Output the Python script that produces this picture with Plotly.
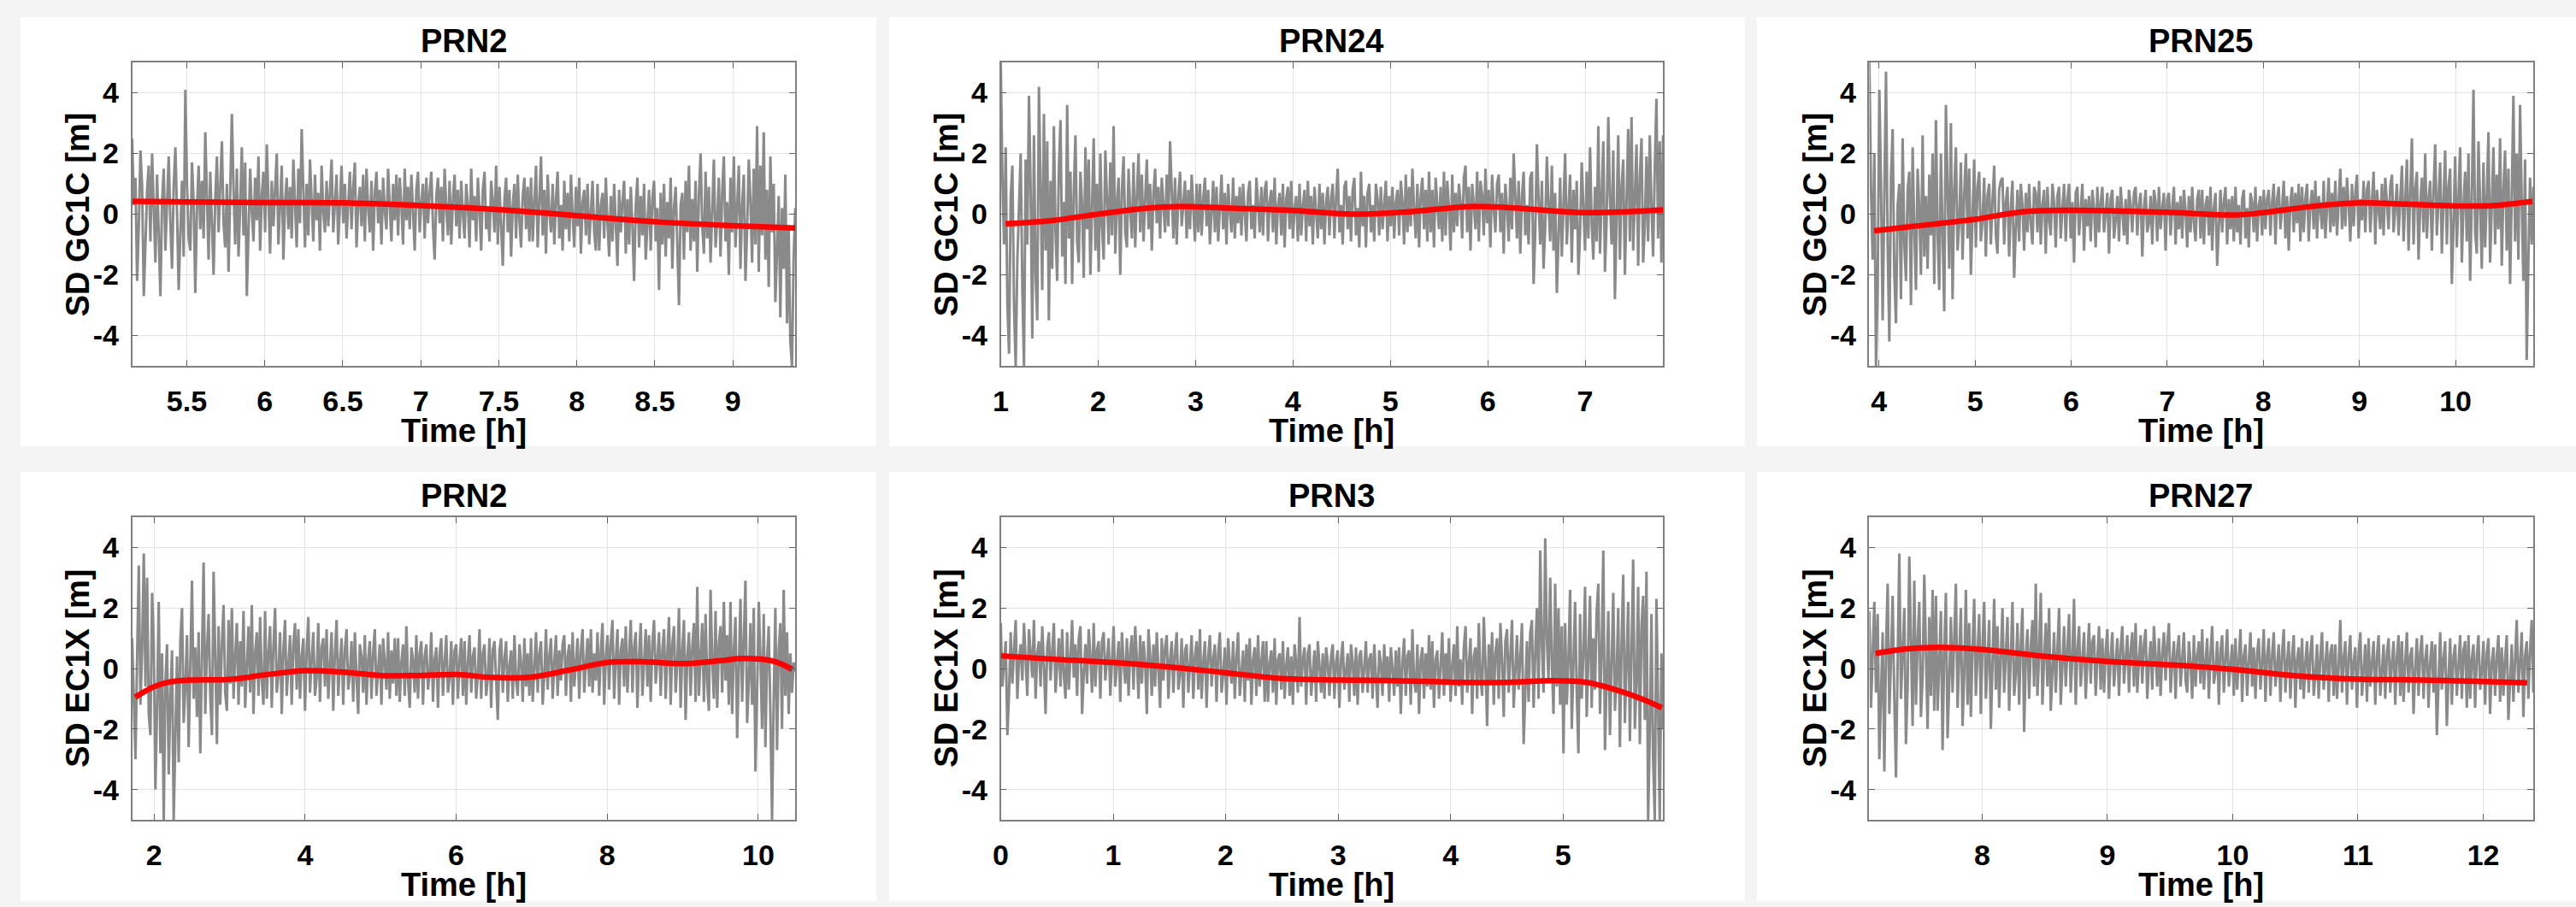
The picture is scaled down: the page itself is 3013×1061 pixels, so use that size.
import numpy as np
import plotly.graph_objects as go

W, H = 3013, 1061
FONT = "Liberation Sans, Arial, Helvetica, sans-serif"

TITLES = ["PRN2", "PRN24", "PRN25", "PRN2", "PRN3", "PRN27"]
YLABELS = ["SD GC1C [m]"] * 3 + ["SD EC1X [m]"] * 3
XLABEL = "Time [h]"

T_START = [5.15, 1.0, 3.9, 1.71, 0.0, 7.1]
T_END = [9.40, 7.8, 10.81, 10.49, 5.89, 12.4]

XTICKS = [
    [5.5, 6, 6.5, 7, 7.5, 8, 8.5, 9],
    [1, 2, 3, 4, 5, 6, 7],
    [4, 5, 6, 7, 8, 9, 10],
    [2, 4, 6, 8, 10],
    [0, 1, 2, 3, 4, 5],
    [8, 9, 10, 11, 12],
]
XTICKTEXT = [
    ["5.5", "6", "6.5", "7", "7.5", "8", "8.5", "9"],
    ["1", "2", "3", "4", "5", "6", "7"],
    ["4", "5", "6", "7", "8", "9", "10"],
    ["2", "4", "6", "8", "10"],
    ["0", "1", "2", "3", "4", "5"],
    ["8", "9", "10", "11", "12"],
]
YTICKS = [-4, -2, 0, 2, 4]
YTICKTEXT = ["-4", "-2", "0", "2", "4"]

SD_PRN2_G = [
    2.5, 0.3, 1.2, -2.2, -0.4, 2.1, 0.9, -2.7, -1.0, 0.8, 1.6, -0.9, 2.0, 0.2, -1.6, 1.3, -0.5, -2.7, 0.4, 1.5,
    -1.2, 0.6, 1.9, -0.3, -1.8, 0.9, 2.2, 0.1, -2.5, -0.6, 1.1, -1.4, 4.1, 1.0, -0.8, -1.2, 1.7, 0.4, -2.6, 0.2,
    1.6, -0.5, 1.1, -0.8, 2.7, 0.6, -1.5, 1.4, -0.2, -2.0, 0.5, 1.9, -0.6, 0.9, 2.4, -0.3, -1.1, 1.0, -1.9, 0.7,
    3.3, 0.8, -1.0, 1.5, -1.4, 0.3, 2.2, -0.7, 1.7, -2.7, -0.4, 1.5, 0.1, -0.9, 1.2, -0.2, 1.9, -1.2, 0.6, 1.4,
    -0.6, 2.3, 0.5, -1.3, 1.1, -0.4, 0.8, 2.0, -1.0, 0.2, 1.6, -1.5, 0.4, 1.2, -0.5, 0.9, -0.8, 1.8, 0.0, -1.1,
    1.5, -0.3, 2.8, 0.6, -1.1, 1.0, -0.7, 1.8, 0.3, -0.9, 1.3, -0.2, 0.7, -1.2, 1.6, 0.1, -0.6, 1.1, -0.4, 0.9,
    1.8, -0.6, 0.5, 1.3, -1.0, 0.2, 1.6, -0.3, 1.0, -0.8, 0.4, 1.4, -0.5, 0.9, 1.7, -1.1, 0.3, 0.9, -0.4, 1.3,
    -0.9, 1.5, 0.2, -0.6, 1.1, -1.2, 0.7, 1.4, -0.3, 0.8, -1.0, 1.2, 0.1, -0.5, 1.5, 0.4, -0.9, 1.0, -0.2, 1.3,
    -0.7, 1.2, 0.3, -1.0, 1.5, -0.2, 0.9, -0.5, 1.3, 0.1, -1.2, 0.8, 1.4, -0.6, 0.4, 1.0, -0.8, 1.2, -0.3, 0.7,
    1.4, -0.4, -1.5, 0.6, 1.2, -0.3, 0.9, -0.9, 1.5, 0.2, -0.7, 1.1, -1.0, 0.5, 1.3, -0.4, 0.8, -0.8, 1.1, 0.0,
    -0.8, 1.0, 0.3, -1.1, 1.5, -0.2, 0.6, -0.9, 1.2, 0.1, -1.2, 0.8, 1.4, -0.5, 0.2, -0.9, 1.1, 0.4, -0.6, 1.6,
    -1.0, 0.9, -0.3, -1.7, 0.5, 1.2, -0.6, 0.8, -1.4, 0.3, 1.0, -0.8, 1.3, -0.2, -1.1, 0.6, 1.2, -0.5, 0.9, -0.9,
    1.2, -0.9, 0.4, 1.6, -1.1, 0.2, 1.9, -0.7, 0.8, -1.3, 1.3, 0.1, -0.6, 1.0, -1.0, 0.5, 1.4, -0.8, 0.3, -1.2,
    1.1, -0.5, 0.7, -0.9, 1.3, 0.0, -1.1, 0.9, -0.4, 1.2, -1.3, 0.4, 0.8, -0.7, 1.0, -1.0, 0.2, 1.1, -0.6, -1.2,
    1.0, -1.2, 0.3, 0.7, -0.8, 1.2, -0.3, -1.4, 0.6, -0.9, 1.0, -0.2, -1.7, 0.8, -0.6, 0.4, 1.1, -1.3, 0.5, -1.0,
    0.9, -0.4, -2.2, 0.3, 1.2, -1.1, 0.6, -0.7, 1.0, -1.5, -0.3, 0.8, -1.2, 0.5, 1.1, -0.9, 0.2, -2.5, 0.7, -1.0,
    1.0, -1.4, 0.4, -0.8, 1.2, -1.8, 0.2, 0.9, -1.0, -3.0, 0.3, 0.7, -1.5, 1.1, -0.6, 1.6, -1.2, 0.5, -0.9, 1.1,
    -1.9, 0.6, 2.0, -0.4, -1.3, 1.4, -0.8, 0.9, -1.6, 0.3, 1.8, -1.1, -0.2, 1.2, -1.4, 0.7, 1.9, -0.9, 0.4, -2.0,
    1.2, -0.6, 1.9, -1.1, 0.5, 1.6, -1.8, 0.3, 1.3, -2.2, -0.5, 1.8, 0.4, -1.6, 1.5, -1.0, 2.9, -1.9, 1.6, -0.7,
    2.7, -1.5, 0.8, -2.4, 1.9, -0.6, 1.0, -2.9, -1.2, 0.6, -3.4, 0.2, -1.8, 1.3, -3.6, -0.5, -4.2, -5.0, -1.4, 0.2,
]
SD_PRN24_G = [
    5.0, 1.2, -1.0, 2.2, -3.0, -4.6, 0.6, 1.6, -3.0, -5.0, -1.5, 0.5, 2.0, -2.4, -5.0, 1.8, -1.0, 3.9, 0.8, -4.1,
    2.6, -2.0, -3.5, 4.2, 0.9, -2.5, 3.3, -1.2, 2.4, -3.5, 1.1, -1.8, 2.9, -0.6, -2.2, 1.5, 3.1, -1.4, 0.4, -2.3,
    3.6, -0.8, 1.4, -2.3, 0.7, 2.6, -0.9, -1.6, 1.4, 0.3, -2.1, 2.2, -0.5, 1.8, -2.0, 0.6, 2.5, -1.2, 1.0, -1.9,
    2.0, -0.4, -1.5, 2.1, 0.5, -1.0, 1.7, -0.7, 2.9, -1.3, 0.4, 1.2, -2.0, 0.8, 1.9, -0.6, -1.1, 1.5, 0.1, -0.8,
    1.7, -1.1, 0.6, 2.0, -0.6, 1.3, -0.9, 0.4, 1.8, -0.5, 1.0, -1.2, 0.7, 1.5, -0.3, 0.9, -0.8, 1.2, 0.2, -0.6,
    1.3, -0.4, 2.4, 0.5, -0.8, 1.2, -1.0, 0.6, 1.4, -0.4, 0.3, 1.1, -0.8, 0.8, -0.5, 1.3, 0.2, -0.9, 1.0, -0.6,
    1.0, -0.7, 0.5, 1.2, -0.4, 0.8, -1.0, 0.3, 1.1, -0.6, 0.9, -0.9, 0.4, 1.3, -0.5, 0.7, -1.0, 1.0, 0.1, -0.6,
    1.2, -0.8, 0.6, -0.3, 0.9, -0.7, 1.0, 0.2, -0.9, 0.7, 1.1, -0.5, 0.3, -0.8, 1.2, 0.4, -0.6, 0.9, -0.7, 0.8,
    1.1, -0.9, 0.4, 0.8, -0.6, 1.2, -1.0, 0.3, 0.7, -0.7, 1.0, -1.1, 0.5, 0.9, -0.5, 1.1, -0.8, 0.2, 0.6, -0.9,
    1.0, -0.7, 0.3, 0.8, -0.9, 1.1, -0.4, 0.6, -1.0, 0.9, 0.1, -0.8, 1.0, -0.5, 0.7, -1.0, 0.4, 0.9, -0.7, 0.5,
    1.0, -0.8, 0.5, 1.5, -0.6, 0.3, -1.0, 0.9, 1.1, -0.5, 0.6, -0.9, 0.8, 1.2, -0.7, 0.2, -1.1, 1.4, -0.4, 0.6,
    -1.1, 0.7, 1.0, -0.6, 0.3, -0.9, 1.0, 0.5, -0.7, 0.9, -0.5, 0.2, 1.1, -0.9, 0.6, -0.4, 0.9, -0.8, 0.4, 0.8,
    -0.7, 1.1, 0.4, -1.0, 1.3, -0.6, 0.9, -0.4, 1.5, 0.2, -0.8, 1.0, -1.1, 0.6, 1.2, -0.5, 0.8, -0.9, 1.4, -0.6,
    0.8, -1.1, 1.2, 0.3, -0.5, 0.9, -0.9, 1.4, -0.7, 1.1, 0.2, -1.2, 1.3, -0.6, 0.7, -0.4, 1.0, 0.4, -0.8, 1.2,
    1.6, -0.6, 0.9, -1.2, 1.0, 0.3, -0.5, 1.4, -0.9, 1.1, 0.6, -0.7, 1.5, -0.3, 0.8, -1.1, 1.3, 0.2, -0.6, 1.0,
    1.3, -0.6, 0.7, -1.3, 1.0, 0.2, -0.9, 1.2, -0.5, 2.0, 0.4, -0.8, 1.1, -1.3, 0.6, 1.4, -0.7, 0.3, -1.0, 1.2,
    1.4, -2.3, -0.6, 2.3, 0.5, -1.0, 1.1, -1.8, -0.4, 1.9, 0.3, -0.9, 1.6, -1.2, 0.7, -2.6, -0.8, 1.2, -1.4, 0.6,
    2.0, -1.0, 0.4, 1.3, -1.6, 0.8, -0.5, 1.1, -2.0, -0.6, 1.7, 0.2, -1.2, 1.4, -0.8, 2.2, -0.3, -1.5, 0.9, -0.9,
    2.9, -1.3, 0.6, 2.4, -1.9, -0.2, 3.2, 0.5, -1.0, 2.1, -2.8, 0.3, 2.6, -1.5, 0.9, 1.8, -2.0, 0.4, 2.8, -0.9,
    3.2, -1.2, 0.7, 2.3, -1.7, 1.2, 2.5, -1.6, -0.4, 1.9, -0.9, 2.6, 0.3, -1.4, 1.5, 3.8, -0.8, 2.4, -1.6, 2.6,
]
SD_PRN25_G = [
    5.0, 0.8, -1.5, 2.0, -5.0, -2.4, 4.1, 1.0, -3.5, 0.5, 4.7, -1.0, -4.2, 1.2, 2.8, -2.0, -3.6, 0.3, 1.0, -2.8,
    2.5, -1.0, -2.2, 0.8, 1.4, -3.0, 2.2, -0.5, -2.5, 1.5, 0.2, -2.0, 2.6, -1.4, 0.6, -1.8, 1.3, -0.7, 2.0, -2.3,
    3.1, -0.6, -2.5, 2.0, -0.9, -3.2, 3.6, 0.4, -1.8, 3.0, -2.8, 0.8, 2.2, -1.2, -0.3, 1.7, -1.5, 0.6, 2.0, -0.8,
    1.5, -2.0, 0.3, 1.8, -1.1, 0.9, 1.4, -0.9, -0.2, 1.2, -1.4, 0.6, 1.0, -1.0, 0.4, 1.6, -0.7, -1.3, 0.8, 1.1,
    1.2, -1.0, 0.4, 0.9, -1.4, 0.2, 1.1, -2.1, -0.5, 0.8, -0.9, 1.0, 0.3, -1.2, 0.7, -0.6, 1.0, -0.3, -1.0, 0.9,
    0.7, -0.6, 1.1, -1.0, 0.3, 0.8, -1.3, 0.9, -0.2, -0.7, 1.0, 0.4, -1.1, 0.6, 0.9, -0.8, 0.2, 1.0, -0.9, 0.5,
    1.0, -0.8, 0.4, -1.6, 0.7, 0.9, -0.7, 0.3, 1.0, -1.2, 0.5, -0.4, 0.6, -0.9, 0.8, 0.2, -1.1, 0.9, -0.6, 0.4,
    0.9, -0.6, 0.2, 0.7, -1.3, 0.5, 0.8, -0.8, -0.2, 0.6, -0.9, 0.9, 0.1, -0.7, 0.5, -1.0, 0.8, 0.3, -0.6, 0.7,
    0.9, -0.7, 0.3, 0.7, -1.4, 0.2, 0.8, -0.6, -0.3, 0.6, -1.0, 0.8, 0.4, -0.9, 0.9, -0.5, 0.2, 0.7, -1.2, 0.5,
    0.7, -0.7, 0.2, 0.9, -1.0, 0.4, -0.5, 0.6, -0.8, 0.8, 0.1, -1.1, 0.6, -0.6, 0.9, -0.3, -0.9, 0.5, 0.8, -0.8,
    0.8, -1.0, 0.3, 0.6, -0.7, 0.9, -1.2, 0.2, 0.7, -1.7, -0.4, 0.8, -0.6, 0.4, 0.9, -1.0, 0.5, -0.5, 0.6, -0.9,
    0.9, -0.6, 0.3, -1.0, 0.5, 0.8, -0.8, 0.2, -1.1, 0.7, 0.4, -0.6, 0.9, -0.9, 0.3, 0.6, -0.7, 0.8, -0.5, 0.5,
    0.8, -0.7, 0.4, 1.0, -1.0, 0.5, 0.9, -0.5, 0.2, 1.1, -0.8, 0.6, -1.2, 0.4, 0.9, -0.6, 0.7, -0.3, 1.0, -0.9,
    0.9, -0.6, 0.5, 1.0, -0.9, 0.3, 0.8, -0.5, 1.1, -0.8, 0.6, 0.2, -0.5, 1.1, -0.8, 0.4, 1.2, -0.6, 0.7, -0.4,
    1.1, -0.7, 0.6, 1.5, -0.5, 0.9, -0.4, 1.2, 0.3, -0.9, 1.0, -0.4, 0.7, 1.3, -0.8, 0.5, -0.2, 1.1, -0.6, 0.8,
    1.1, -0.6, 0.4, 1.4, -1.0, 0.8, 0.2, -0.5, 1.0, -0.7, 1.2, 0.4, -0.5, 0.9, 1.3, -0.6, 0.3, 1.0, -0.7, 0.6,
    1.6, -0.9, 0.5, 1.8, -1.2, 0.4, 2.5, -1.0, 0.8, 1.4, -1.5, 0.3, 1.2, -0.6, 2.0, -0.8, 0.5, 1.1, -1.2, 0.7,
    2.3, -0.7, 0.6, 1.7, -1.3, 0.2, 2.1, -1.0, 0.9, 1.5, -2.3, -0.4, 1.9, -1.1, 0.8, 2.2, -1.6, 0.3, 1.4, -0.9,
    2.0, -2.2, 0.5, 4.1, -0.6, -1.3, 2.4, 0.3, -1.8, 1.7, -1.1, 0.6, 2.7, -1.6, 0.2, 2.2, -1.0, 1.3, -0.5, 2.5,
    -1.7, 0.8, 2.1, -1.2, 1.5, -2.3, 0.6, 3.9, -0.9, 2.0, -1.5, 3.6, 0.4, -2.2, 1.8, -4.8, -1.5, 1.2, -1.0, 0.9,
]
SD_PRN2_E = [
    1.0, -1.3, -3.0, 0.4, 3.4, -1.2, 0.6, 3.8, -0.6, 3.0, -1.5, -2.2, 2.5, 0.8, -4.0, -1.2, 2.2, -2.8, 0.5, -5.0,
    -0.5, 0.8, -3.5, -1.0, 0.6, -5.0, -2.0, 0.4, -3.1, 0.9, 2.0, -1.8, -0.6, 1.1, -2.6, 0.5, 2.9, -1.0, 0.7, -1.6,
    1.2, -2.8, 0.3, 3.5, -1.5, 0.6, 1.8, -0.9, -2.2, 3.2, 0.5, -2.5, 1.4, -1.2, 0.8, 2.1, -0.8, -1.4, 1.6, -0.5,
    2.0, -1.0, 0.4, 1.5, -1.2, 0.9, -0.6, 1.9, -1.3, 0.3, 1.4, -0.8, 2.1, -1.5, 0.5, 1.2, -0.9, 1.7, -0.4, -1.2,
    1.9, -1.0, 0.5, 1.4, -1.3, 0.7, 2.0, -0.8, -0.2, 1.2, -1.5, 0.6, 1.6, -0.9, 0.2, 1.1, -1.2, 0.8, 1.5, -0.7,
    1.3, -1.0, 0.4, 1.0, -1.4, 0.6, 1.7, -0.8, 0.3, 1.2, -0.9, -0.3, 1.5, -1.1, 0.7, 1.0, -0.6, 1.3, -1.0, 0.2,
    1.2, -1.4, 0.5, 1.6, -0.9, 0.2, 1.0, -1.2, 0.6, 1.3, -0.7, -0.2, 0.9, -1.1, 1.2, -0.3, -1.5, 0.8, 0.4, -0.8,
    1.1, -1.2, 0.3, 0.9, -1.0, 0.5, 1.3, -0.9, -0.1, 0.8, -1.2, 1.0, 0.2, -0.7, 1.2, -1.0, 0.6, -0.5, 1.0, -0.9,
    1.0, -1.1, 0.2, 0.8, -0.9, 1.4, -0.4, -1.3, 0.7, 0.3, -0.8, 1.1, -1.0, 0.5, 0.9, -1.2, 0.4, 0.8, -0.7, -0.1,
    1.2, -1.1, 0.3, 0.7, -1.3, 0.5, 1.0, -0.9, 0.2, 1.1, -0.8, -0.3, 0.9, -1.2, 0.6, 0.8, -1.0, 0.3, 1.0, -0.9,
    0.9, -1.2, 0.2, 1.1, -0.8, 0.4, 0.7, -1.0, -0.2, 1.3, -1.0, 0.5, 0.8, -0.9, -0.3, 1.0, -1.3, 0.6, 0.9, -0.7,
    -1.7, 0.6, 1.0, -0.8, 0.3, 0.9, -1.1, 0.1, 0.6, -1.0, 1.1, -0.4, -0.9, 0.8, 0.2, -1.1, 1.0, -0.6, 0.5, -0.9,
    1.0, -1.1, 0.3, 1.2, -0.8, 0.5, 0.9, -1.2, -0.2, 1.3, -0.7, 0.4, 1.0, -1.0, 0.2, 1.1, -0.9, 0.6, -0.4, 0.8,
    1.1, -0.9, 0.4, 0.8, -1.1, 1.2, -0.6, 0.3, 1.0, -1.0, 0.6, 1.3, -0.8, 0.2, 1.0, -0.6, 1.3, -0.8, 0.5, -0.4,
    1.2, -0.9, 0.6, 1.5, -1.2, 0.4, 1.1, -0.7, 0.9, 1.6, -1.0, 0.3, 1.3, -1.2, 0.6, 1.0, -0.6, 1.4, -0.8, 0.5,
    1.6, -0.8, 0.7, 1.2, -1.3, 0.4, 1.5, -0.9, 0.2, 1.3, -0.6, 1.1, -1.1, 0.8, 1.6, -0.5, 0.3, 1.2, -0.9, 0.6,
    1.3, -1.0, 0.5, 1.7, -1.2, 0.8, 1.4, -0.8, 0.2, 2.0, -1.3, 0.6, 1.6, -1.7, 0.4, 1.2, -0.9, 0.7, 1.5, -1.1,
    2.7, -0.9, 0.4, 1.5, -1.1, 1.8, -0.5, -1.4, 2.6, 0.3, -1.0, 1.9, -1.3, 0.8, 1.4, -0.8, 2.2, -0.4, 1.1, -1.2,
    2.2, -1.5, 0.6, 1.7, -2.3, 0.2, 2.3, -1.1, 0.9, 2.9, -1.8, -0.5, 1.5, -1.2, 2.0, -3.4, -0.8, 2.2, 0.4, -2.0,
    1.8, -2.6, 0.3, 1.4, -1.5, -5.0, -1.0, 2.0, -2.7, 0.6, 1.5, -2.0, 2.6, -0.9, 1.2, -1.5, 0.5, -0.8, 0.2, -0.1,
]
SD_PRN3_E = [
    1.5, -0.6, 0.2, 0.9, -2.2, -0.8, 1.2, -0.5, 0.6, 1.6, -1.0, 0.3, 0.8, -0.4, 1.5, 0.2, -0.9, 1.3, 0.4, -0.3,
    1.6, -1.0, 0.5, 0.9, -0.6, 1.4, 0.1, -1.5, 0.7, 1.2, -0.4, 0.5, 1.5, -0.8, 0.3, 1.0, -0.6, 1.3, -0.2, -1.0,
    1.2, -0.7, 0.4, 1.6, -0.3, 0.8, -0.9, 1.0, 1.4, -1.5, -0.2, 0.8, -0.5, 1.3, 0.4, -0.8, 1.5, -0.6, 0.6, 0.9,
    -1.0, 0.9, 1.2, -0.4, 0.3, 1.0, -0.9, 0.5, 1.4, -0.6, 0.1, 0.9, -1.1, 1.2, 0.2, -0.5, 1.0, -0.9, 0.6, 1.1,
    -0.7, 1.4, 0.3, -1.0, 1.1, -0.5, 0.9, 0.2, -1.5, 1.3, 0.4, -0.9, 0.8, -0.6, 1.2, 0.1, -1.3, 1.0, -0.4, 0.7,
    1.1, -1.0, 0.3, 0.9, -0.8, 0.5, 1.2, -0.7, -0.2, 1.0, -1.3, 0.6, 0.8, -0.8, 0.2, 1.1, -1.0, 0.4, 0.9, -0.7,
    1.3, -1.0, 0.2, 0.9, -1.3, 0.4, 1.1, -0.6, 0.3, 0.8, -1.1, 0.5, 1.2, -0.8, -0.2, 0.7, -1.2, 1.0, 0.1, -0.5,
    0.9, -1.0, 0.4, 1.2, -0.9, 0.0, 0.6, -1.1, 0.8, -0.4, 1.0, -1.2, 0.3, 0.7, -0.9, 1.1, -0.6, 0.2, 0.9, -1.1,
    0.9, -1.1, 0.2, 0.6, -0.8, 1.0, -1.2, 0.3, 0.5, -0.7, 0.9, -1.0, 0.1, 0.7, -0.9, 0.4, -1.2, 0.8, 0.2, -0.8,
    1.7, -0.6, 0.3, 0.7, -1.2, 0.5, 0.8, -0.9, -0.2, 0.6, -1.1, 0.9, 0.1, -0.8, 0.5, -1.0, 0.7, 0.2, -0.9, 0.4,
    0.8, -1.0, 0.2, 0.6, -1.3, 0.3, 0.9, -0.7, -0.1, 0.5, -1.1, 0.8, 0.2, -0.9, 0.7, -1.2, 0.4, 0.6, -0.8, 0.1,
    0.9, -0.8, 0.3, 0.5, -1.0, 0.8, -0.5, -1.3, 0.6, 0.2, -0.9, 0.8, -0.4, 0.4, -1.1, 0.7, 0.0, -0.9, 0.6, -0.6,
    0.7, -1.5, 0.2, 1.0, -0.9, 0.4, 0.6, -1.2, 1.3, -0.4, -0.8, 0.8, -1.5, 0.3, 0.7, -1.0, 0.5, -0.6, 1.1, -0.7,
    0.9, -1.3, 0.3, 0.6, -1.0, 0.2, 1.2, -0.9, 0.5, -0.4, 1.0, -1.1, 0.1, 0.8, -0.9, 1.4, -0.6, 0.3, -1.2, 0.7,
    1.4, -0.8, 0.2, 1.0, -1.5, 0.4, 0.7, -1.0, 1.5, -0.3, -0.9, 1.7, 0.2, -1.9, 0.8, -0.5, 1.2, -1.2, 0.5, 1.0,
    -1.0, 1.5, 0.3, -1.6, 0.9, 1.3, -0.8, 0.4, 1.6, -1.3, -0.2, 1.1, -0.7, 0.6, 1.5, -2.5, -0.6, 0.9, -1.1, 1.2,
    1.6, -1.3, 0.5, 2.0, -1.0, 3.9, 0.8, -0.8, 4.3, 1.0, -0.4, 3.0, 0.2, -1.5, 2.8, -0.6, 2.0, -1.2, 1.4, -2.8,
    1.5, -1.2, 0.3, 2.6, -2.0, 0.4, 2.2, -0.8, -2.8, 1.8, -1.0, 0.5, 2.7, -1.6, 0.2, 2.4, -1.3, 1.0, -0.7, 1.9,
    2.8, -1.5, 0.5, 3.9, -2.7, -0.6, 1.9, -2.2, 0.7, 2.5, -1.4, -0.3, 2.0, -2.6, 0.8, 3.1, -1.8, 0.4, 2.2, -2.4,
    1.0, 3.6, -2.0, -0.5, 2.7, -2.5, 1.4, 2.4, -1.7, 3.2, -5.0, -2.2, 1.8, -3.0, -5.0, 2.3, -1.2, -5.0, 0.5, -2.0,
]
SD_PRN27_E = [
    1.9, -1.3, 0.5, 2.2, -0.8, 1.8, -3.0, -0.4, 1.2, -3.4, 0.6, 2.8, -1.5, 0.3, 2.4, -1.0, -3.6, 0.2, 3.8, -1.0,
    0.8, 2.0, -2.5, -0.6, 3.7, 0.4, -1.9, 2.9, -1.2, 0.9, 2.2, -1.6, -0.3, 3.1, 0.5, -2.0, 1.7, -0.9, 2.6, -1.4,
    2.4, -1.4, 0.2, 1.9, -2.7, 0.6, 2.5, -2.3, -0.5, 1.7, -0.8, 0.9, 2.8, -1.3, 0.4, 2.0, -1.9, -0.2, 2.6, -1.2,
    1.5, -1.6, 0.7, 2.3, -0.9, 0.3, 1.8, -1.5, 0.8, 2.2, -1.0, 0.2, 1.6, -2.0, 0.6, 2.3, -0.7, 1.4, -1.3, 0.5,
    2.0, -0.8, 0.3, 1.7, -1.4, 0.6, 2.2, -0.9, -0.2, 1.5, -1.2, 0.8, 2.0, -2.1, 0.4, 1.3, -1.0, 0.7, 1.6, -0.6,
    2.8, -0.9, 0.5, 2.5, -1.2, 0.3, 1.5, -0.6, 2.0, -1.4, 0.2, 1.2, -0.8, 0.9, 2.0, -1.2, 0.4, 1.4, -0.6, 0.7,
    1.8, -0.8, 0.4, 2.3, -1.2, 0.6, 1.4, -0.6, 0.2, 1.2, -1.0, 0.5, 1.5, -0.5, 0.9, 1.1, -0.9, 0.3, 1.4, -0.7,
    1.0, -0.8, 0.6, 1.3, -1.0, 0.4, 1.2, -0.6, 0.1, 1.0, -0.9, 0.7, 1.4, -0.5, 0.3, 1.1, -0.8, 0.6, 1.2, -0.6,
    1.5, -0.8, 0.3, 1.1, -0.5, 0.8, 1.3, -1.0, 0.2, 0.9, -0.7, 1.4, 0.4, -0.6, 1.0, -0.9, 0.5, 1.2, -0.4, 0.8,
    1.5, -0.8, 0.2, 0.9, -1.0, 0.6, 1.1, -0.6, 0.3, 1.2, -0.4, -0.8, 0.9, 0.2, -1.0, 1.1, -0.6, 0.4, 0.9, -0.5,
    1.3, -0.7, 0.2, 1.0, -1.0, 0.5, 1.4, -0.5, -0.1, 0.9, -1.2, 0.6, 1.1, -0.8, 0.3, 1.3, -0.6, 0.1, 0.8, -0.9,
    1.0, -0.7, 0.3, 1.3, -1.1, 0.4, 0.8, -0.9, 0.2, 1.2, -0.6, 0.7, -1.0, 0.5, 1.0, -0.7, 0.2, 1.3, -1.1, 0.4,
    1.0, -0.9, 0.4, 1.2, -0.6, 0.1, 0.8, -1.1, 0.5, 1.3, -0.8, 0.2, 0.9, -1.0, 0.4, 1.1, -1.3, 0.3, 0.7, -0.7,
    1.0, -1.0, 0.2, 0.9, -0.8, 0.5, 1.1, -0.9, -0.2, 0.8, -1.0, 0.4, 1.2, -0.7, 0.1, 0.9, -1.1, 0.5, 0.8, -0.9,
    0.8, -1.0, 0.1, 1.6, -0.8, 0.3, 0.9, -1.2, 0.4, 1.1, -0.7, 0.2, 0.7, -1.3, 0.5, 1.2, -0.9, 0.0, 0.8, -1.1,
    1.0, -0.6, 0.3, 0.9, -1.2, 0.4, 1.1, -0.9, -0.1, 0.8, -1.0, 0.5, 1.0, -0.8, 0.2, 0.9, -1.2, 0.4, 1.1, -0.9,
    0.9, -1.1, 0.2, 1.2, -0.8, 0.4, 0.7, -1.5, 0.0, 1.0, -0.9, 0.5, 1.1, -1.0, 0.3, 0.8, -1.3, 0.2, 0.9, -0.8,
    0.8, -2.2, -0.5, 1.2, -0.7, 0.3, 0.9, -1.9, -0.3, 1.0, -1.2, 0.4, 0.8, -0.9, 0.1, 1.1, -1.0, 0.6, 0.9, -1.3,
    1.1, -1.0, 0.3, 0.8, -1.3, 0.4, 1.1, -0.7, -0.1, 0.9, -1.2, 0.5, 1.0, -1.5, 0.2, 0.7, -0.9, 0.4, 1.1, -1.1,
    0.7, -0.9, 0.3, 1.1, -1.7, -0.4, 0.8, -1.1, 0.5, 1.6, -0.8, 0.2, 1.2, -1.6, 0.4, 0.9, -1.0, 0.6, 1.6, -0.8,
]
GREY = [SD_PRN2_G, SD_PRN24_G, SD_PRN25_G, SD_PRN2_E, SD_PRN3_E, SD_PRN27_E]

# ---- red smoothed trend ----
TREND_T = [
    [5.15, 5.5, 6.0, 6.5, 7.0, 7.5, 8.0, 8.5, 9.0, 9.4],
    [1.05, 1.5, 2.0, 2.5, 2.8, 3.5, 4.0, 4.6, 5.2, 5.8, 6.2, 7.0, 7.8],
    [3.95, 4.3, 5.0, 5.5, 6.0, 7.0, 7.7, 8.0, 8.5, 9.0, 9.5, 10.0, 10.4, 10.8],
    [1.75, 2.0, 2.2, 2.5, 3.0, 3.5, 4.0, 4.5, 5.0, 5.5, 6.0, 6.5, 7.0, 7.5, 8.0, 8.5, 9.0, 9.5, 9.8, 10.2, 10.45],
    [0.0, 0.5, 1.0, 1.5, 2.0, 2.5, 3.0, 3.5, 4.0, 4.5, 4.9, 5.2, 5.45, 5.7, 5.88],
    [7.15, 7.4, 7.65, 8.0, 8.5, 9.0, 9.5, 10.0, 10.5, 11.0, 11.5, 12.0, 12.35],
]
TREND_V = [
    [0.42, 0.40, 0.38, 0.37, 0.28, 0.15, -0.05, -0.25, -0.38, -0.46],
    [-0.32, -0.22, 0.0, 0.2, 0.25, 0.18, 0.12, 0.0, 0.08, 0.25, 0.22, 0.05, 0.14],
    [-0.55, -0.42, -0.17, 0.08, 0.13, 0.06, -0.03, 0.05, 0.25, 0.37, 0.33, 0.27, 0.28, 0.42],
    [-0.95, -0.6, -0.45, -0.38, -0.36, -0.2, -0.07, -0.12, -0.23, -0.23, -0.2, -0.3, -0.28, -0.05, 0.2, 0.22, 0.16, 0.26, 0.33, 0.24, -0.03],
    [0.42, 0.3, 0.2, 0.05, -0.14, -0.33, -0.38, -0.4, -0.45, -0.46, -0.4, -0.45, -0.68, -1.0, -1.3],
    [0.5, 0.65, 0.7, 0.63, 0.4, 0.23, 0.12, -0.03, -0.24, -0.35, -0.38, -0.43, -0.47],
]

# ---- layout geometry (pixels) ----
COL_X = [(146, 924), (1165, 1942), (2184, 2963)]
ROW_Y = [(73, 428), (605, 959)]
CARD_X = [(15, 1019), (1034, 2038), (2052, 3013)]
CARD_Y = [(20, 522), (552, 1054)]


def fx(p):
    return p / W


def fy(p):
    return 1 - p / H


fig = go.Figure()
layout = dict(
    width=W, height=H,
    margin=dict(l=0, r=0, t=0, b=0),
    paper_bgcolor="#f4f4f4",
    plot_bgcolor="white",
    showlegend=False,
    font=dict(family=FONT, color="black", weight="bold"),
)
shapes = []
annotations = []

for i in range(6):
    r, c = divmod(i, 3)
    sfx = "" if i == 0 else str(i + 1)
    xa, ya = "x" + sfx, "y" + sfx
    t = np.linspace(T_START[i], T_END[i], len(GREY[i]))
    fig.add_trace(go.Scatter(x=t, y=GREY[i], mode="lines", xaxis=xa, yaxis=ya,
                             line=dict(color="#8a8a8a", width=3.0), hoverinfo="skip"))
    fig.add_trace(go.Scatter(x=TREND_T[i], y=TREND_V[i], mode="lines", xaxis=xa, yaxis=ya,
                             line=dict(color="#ff0000", width=6.5, shape="spline", smoothing=1.0),
                             hoverinfo="skip"))
    x0, x1 = COL_X[c]
    y0, y1 = ROW_Y[r]
    common = dict(
        showline=True, linecolor="#808080", linewidth=1.5, mirror="ticks",
        ticks="inside", ticklen=7, tickwidth=1.2, tickcolor="#606060",
        showgrid=True, gridcolor="#e3e3e3", gridwidth=1, zeroline=False,
        tickfont=dict(family=FONT, size=34, color="black", weight="bold"),
    )
    layout["xaxis" + sfx] = dict(
        domain=[fx(x0), fx(x1)], range=[T_START[i], T_END[i]], anchor=ya,
        tickvals=XTICKS[i], ticktext=XTICKTEXT[i], ticklabelstandoff=10, **common)
    layout["yaxis" + sfx] = dict(
        domain=[fy(y1), fy(y0)], range=[-5, 5], anchor=xa,
        tickvals=YTICKS, ticktext=YTICKTEXT, ticklabelstandoff=7, **common)

    cx0, cx1 = CARD_X[c]
    cy0, cy1 = CARD_Y[r]
    shapes.append(dict(type="rect", xref="paper", yref="paper", layer="below",
                       x0=fx(cx0), x1=fx(cx1), y0=fy(cy1), y1=fy(cy0),
                       fillcolor="white", line=dict(width=0)))
    mx = (x0 + x1) / 2
    my = (y0 + y1) / 2
    annotations.append(dict(text=TITLES[i], xref="paper", yref="paper", x=fx(mx), y=fy(y0 - 25),
                            xanchor="center", yanchor="middle", showarrow=False,
                            font=dict(family=FONT, size=38, color="black", weight="bold")))
    annotations.append(dict(text=XLABEL, xref="paper", yref="paper", x=fx(mx), y=fy(y1 + 76),
                            xanchor="center", yanchor="middle", showarrow=False,
                            font=dict(family=FONT, size=38, color="black", weight="bold")))
    annotations.append(dict(text=YLABELS[i], xref="paper", yref="paper", x=fx(x0 - 64), y=fy(my),
                            xanchor="center", yanchor="middle", showarrow=False, textangle=-90,
                            font=dict(family=FONT, size=38, color="black", weight="bold")))

layout["shapes"] = shapes
layout["annotations"] = annotations
fig.update_layout(**layout)
fig.write_html("out.html")
